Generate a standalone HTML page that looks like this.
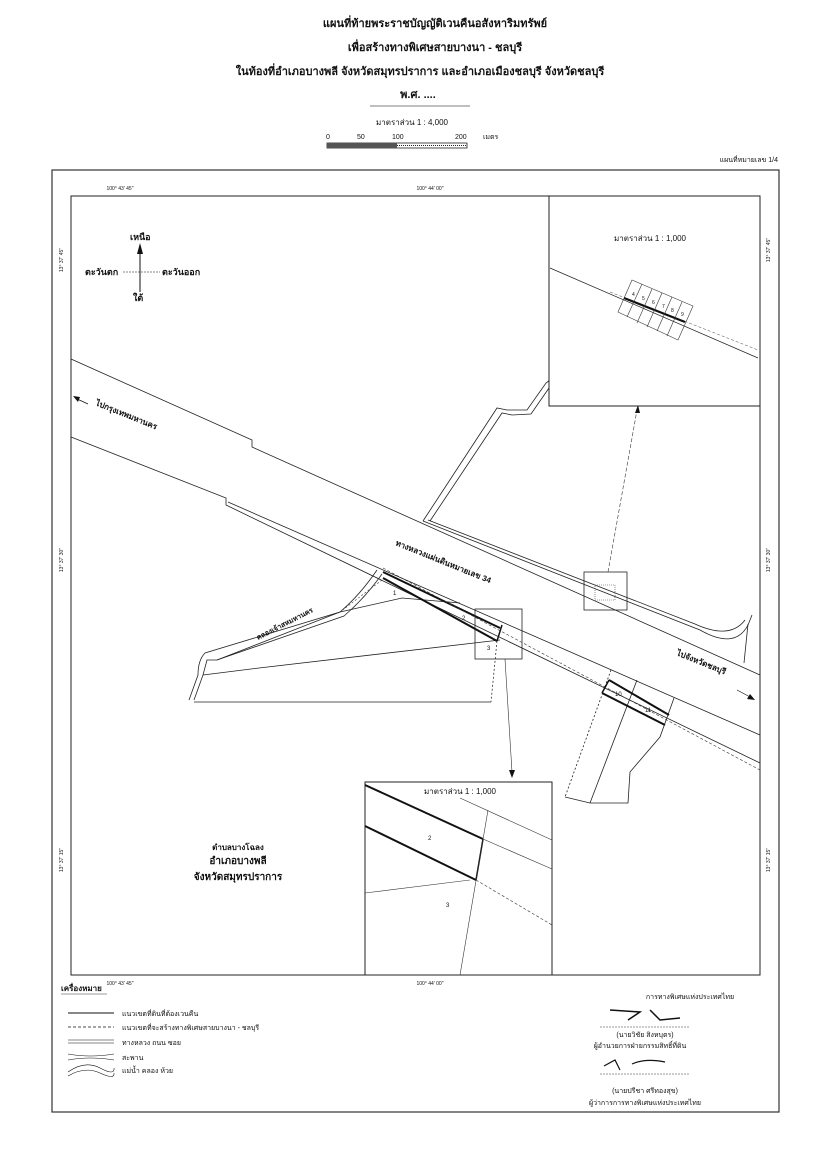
<!DOCTYPE html>
<html><head><meta charset="utf-8"><style>
html,body{margin:0;padding:0;background:#fff}
svg{display:block}
text{font-family:"Liberation Sans","Noto Sans CJK SC",sans-serif;fill:#111}
</style></head><body>
<svg width="816" height="1150" viewBox="0 0 816 1150" xmlns="http://www.w3.org/2000/svg">
<g text-anchor="middle" font-weight="bold">
<text x="435" y="27" font-size="11">แผนที่ท้ายพระราชบัญญัติเวนคืนอสังหาริมทรัพย์</text>
<text x="435" y="51" font-size="11">เพื่อสร้างทางพิเศษสายบางนา - ชลบุรี</text>
<text x="420" y="75" font-size="11">ในท้องที่อำเภอบางพลี จังหวัดสมุทรปราการ และอำเภอเมืองชลบุรี จังหวัดชลบุรี</text>
<text x="418" y="98" font-size="11">พ.ศ. ....</text>
</g>
<line x1="370" y1="106" x2="470" y2="106" stroke="#555" stroke-width="0.8"/>
<text x="412" y="125" font-size="8" text-anchor="middle">มาตราส่วน 1 : 4,000</text>
<g font-size="7"><text x="326" y="139">0</text><text x="357" y="139">50</text><text x="392" y="139">100</text><text x="455" y="139">200</text><text x="483" y="139">เมตร</text></g>
<rect x="327" y="143" width="140" height="5" fill="none" stroke="#222" stroke-width="0.8"/>
<rect x="327" y="143" width="70" height="5" fill="#555"/>
<line x1="397" y1="145.5" x2="467" y2="145.5" stroke="#222" stroke-dasharray="1 1"/>
<text x="778" y="162" font-size="7" text-anchor="end">แผนที่หมายเลข 1/4</text>
<rect x="52" y="170" width="727" height="942" fill="none" stroke="#333" stroke-width="1.2"/>
<rect x="71" y="196" width="689" height="779" fill="none" stroke="#222" stroke-width="1"/>
<g font-size="5"><text x="120" y="190" text-anchor="middle">100° 43' 45"</text><text x="430" y="190" text-anchor="middle">100° 44' 00"</text>
<text x="120" y="985" text-anchor="middle">100° 43' 45"</text><text x="430" y="985" text-anchor="middle">100° 44' 00"</text></g>
<g font-size="5"><text transform="translate(63,260) rotate(-90)" text-anchor="middle">13° 37' 45"</text><text transform="translate(63,560) rotate(-90)" text-anchor="middle">13° 37' 30"</text><text transform="translate(63,860) rotate(-90)" text-anchor="middle">13° 37' 15"</text>
<text transform="translate(770,250) rotate(-90)" text-anchor="middle">13° 37' 45"</text><text transform="translate(770,560) rotate(-90)" text-anchor="middle">13° 37' 30"</text><text transform="translate(770,860) rotate(-90)" text-anchor="middle">13° 37' 15"</text></g>
<line x1="140" y1="292" x2="140" y2="248" stroke="#111" stroke-width="1"/>
<polygon points="140,243 137,254 143,254" fill="#111"/>
<line x1="123" y1="272" x2="160" y2="272" stroke="#111" stroke-width="0.6" stroke-dasharray="2 1"/>
<g font-size="9" font-weight="bold"><text x="130" y="240">เหนือ</text><text x="85" y="275">ตะวันตก</text><text x="162" y="275">ตะวันออก</text><text x="133" y="301">ใต้</text></g>
<g fill="none" stroke="#222" stroke-width="0.8">
<polyline points="71,359 252,440 252,447 760,675"/>
<polyline points="71,437 226,498 226,505 760,763"/>
<polyline points="228,502 760,735"/>
<path d="M423,521 L700,630 Q735,650 748,625 L752,615"/>
<path d="M428,520 L695,624 Q730,640 745,620"/>
<polyline points="744,663 748,624"/>
<polyline points="423,521 497,408 507,410 527,410 546,383 550,380"/>
<polyline points="430,521 502,413 512,415 531,414 549,388"/>
<!-- left parcels -->
<path d="M377,570 Q360,595 340,612 L205,653 Q198,660 198,675 L189,700"/>
<path d="M382,574 Q365,598 344,616 L217,660 L207,660 L203,675 L194,700"/>
<polyline points="203,675 259,668 500,640"/>
<polyline points="217,660 340,612"/>
<polyline points="340,612 402,598 460,603"/>
<polyline points="194,702 491,702"/>
</g>
<polyline points="382,580 340,612" stroke="#333" stroke-width="0.6" stroke-dasharray="2 2"/>
<polyline points="383,572 500,628" stroke="#111" stroke-width="2" fill="none"/>
<polyline points="383,578 497,641" stroke="#111" stroke-width="2" fill="none"/>
<polyline points="497,641 502,625" stroke="#111" stroke-width="1.5"/>
<polyline points="497,641 491,702" stroke="#333" stroke-width="0.8" stroke-dasharray="2 2"/>
<polyline points="383,568 760,770" stroke="#333" stroke-width="0.6" stroke-dasharray="3 2" fill="none"/>
<g font-size="6"><text x="393" y="595">1</text><text x="462" y="620">2</text><text x="487" y="650">3</text></g>
<text transform="translate(258,640) rotate(-27)" font-size="7" font-weight="bold">คลองเจ้าสหมหานคร</text>
<!-- right parcels -->
<g fill="none" stroke="#222" stroke-width="0.8">
<polyline points="611,670 565,797" stroke-dasharray="2 2"/>
<polyline points="565,797 590,803 628,803 630,772 660,737 674,698"/>
<polyline points="637,680 590,803"/>
</g>
<polyline points="609,680 669,715" stroke="#111" stroke-width="2"/>
<polyline points="602,693 665,725" stroke="#111" stroke-width="2"/>
<polyline points="609,680 602,693 M669,715 665,725" stroke="#111" stroke-width="1.5"/>
<g font-size="6"><text x="615" y="696">10</text><text x="645" y="712">11</text></g>
<text transform="translate(395,545) rotate(22)" font-size="8" font-weight="bold">ทางหลวงแผ่นดินหมายเลข 34</text>
<text transform="translate(95,405) rotate(22)" font-size="8" font-weight="bold">ไปกรุงเทพมหานคร</text>
<line x1="75" y1="398" x2="88" y2="404" stroke="#111" stroke-width="0.7"/><polygon points="73,396 80,397 78,402" fill="#111"/>
<text transform="translate(676,655) rotate(22)" font-size="8" font-weight="bold">ไปจังหวัดชลบุรี</text>
<line x1="737" y1="690" x2="752" y2="698" stroke="#111" stroke-width="0.7"/><polygon points="755,700 747,699 750,694" fill="#111"/>
<rect x="584" y="572" width="43" height="38" fill="none" stroke="#222" stroke-width="0.8"/>
<rect x="595" y="585" width="20" height="15" fill="none" stroke="#444" stroke-width="0.6" stroke-dasharray="1 1"/>
<rect x="475" y="609" width="47" height="50" fill="none" stroke="#222" stroke-width="0.8"/>
<line x1="608" y1="572" x2="637" y2="410" stroke="#333" stroke-width="0.6" stroke-dasharray="4 2"/>
<polygon points="638,405 635,413 640,413" fill="#111"/>
<line x1="505" y1="659" x2="512" y2="772" stroke="#333" stroke-width="0.6"/>
<polygon points="512,778 509,770 515,770" fill="#111"/>
<rect x="549" y="196" width="211" height="210" fill="#fff" stroke="#222" stroke-width="1"/>
<text x="650" y="241" font-size="8" text-anchor="middle">มาตราส่วน 1 : 1,000</text>
<polyline points="550,268 758,358" stroke="#222" stroke-width="0.7" fill="none"/>
<polyline points="610,292 758,350" stroke="#444" stroke-width="0.5" fill="none" stroke-dasharray="3 2"/>
<polyline points="624,298 685,322" stroke="#111" stroke-width="2.2" fill="none"/>
<g stroke="#333" stroke-width="0.6" fill="none">
<polygon points="632,280 693,306 678,340 618,312"/>
<line x1="642" y1="284" x2="627" y2="317"/><line x1="652" y1="289" x2="637" y2="323"/><line x1="662" y1="293" x2="647" y2="327"/><line x1="672" y1="297" x2="657" y2="331"/><line x1="682" y1="302" x2="667" y2="336"/>
</g>
<g font-size="5"><text x="632" y="296">4</text><text x="642" y="300">5</text><text x="652" y="304">6</text><text x="662" y="308">7</text><text x="671" y="312">8</text><text x="681" y="316">9</text></g>
<rect x="365" y="782" width="187" height="193" fill="#fff" stroke="#222" stroke-width="1"/>
<text x="460" y="794" font-size="8" text-anchor="middle">มาตราส่วน 1 : 1,000</text>
<line x1="365" y1="785" x2="483" y2="839" stroke="#111" stroke-width="2"/>
<line x1="365" y1="826" x2="476" y2="880" stroke="#111" stroke-width="2"/>
<line x1="476" y1="880" x2="483" y2="839" stroke="#111" stroke-width="1.5"/>
<line x1="460" y1="798" x2="552" y2="840" stroke="#333" stroke-width="0.6"/>
<line x1="483" y1="839" x2="552" y2="869" stroke="#333" stroke-width="0.6"/>
<line x1="476" y1="880" x2="552" y2="925" stroke="#333" stroke-width="0.6" stroke-dasharray="3 2"/>
<line x1="365" y1="893" x2="470" y2="880" stroke="#333" stroke-width="0.6"/>
<line x1="488" y1="810" x2="460" y2="975" stroke="#333" stroke-width="0.6"/>
<text x="428" y="840" font-size="6">2</text><text x="446" y="907" font-size="6">3</text>
<g text-anchor="middle" font-weight="bold"><text x="238" y="850" font-size="8">ตำบลบางโฉลง</text><text x="238" y="864" font-size="10">อำเภอบางพลี</text><text x="238" y="880" font-size="10">จังหวัดสมุทรปราการ</text></g>
<text x="61" y="991" font-size="8" font-weight="bold">เครื่องหมาย</text>
<line x1="61" y1="994" x2="107" y2="994" stroke="#333" stroke-width="0.6"/>
<g font-size="7">
<line x1="68" y1="1013" x2="114" y2="1013" stroke="#111" stroke-width="1"/><text x="122" y="1016">แนวเขตที่ดินที่ต้องเวนคืน</text>
<line x1="68" y1="1027" x2="114" y2="1027" stroke="#111" stroke-width="0.8" stroke-dasharray="3 2"/><text x="122" y="1030">แนวเขตที่จะสร้างทางพิเศษสายบางนา - ชลบุรี</text>
<line x1="68" y1="1040" x2="114" y2="1040" stroke="#111" stroke-width="0.6"/><line x1="68" y1="1043" x2="114" y2="1043" stroke="#111" stroke-width="0.6"/><text x="122" y="1045">ทางหลวง ถนน ซอย</text>
<path d="M68,1054 Q90,1058 114,1054 M68,1060 Q90,1056 114,1060" stroke="#111" stroke-width="0.6" fill="none"/><text x="122" y="1060">สะพาน</text>
<path d="M68,1072 Q85,1060 100,1068 T114,1068 M68,1076 Q85,1066 100,1073 T114,1073" stroke="#111" stroke-width="0.6" fill="none"/><text x="122" y="1073">แม่น้ำ คลอง ห้วย</text>
</g>
<g font-size="7" text-anchor="middle">
<text x="690" y="999">การทางพิเศษแห่งประเทศไทย</text>
<path d="M610,1010 L640,1012 L628,1020 M650,1010 L660,1020 L680,1018" stroke="#111" fill="none" stroke-width="1.5"/>
<line x1="600" y1="1027" x2="690" y2="1027" stroke="#333" stroke-width="0.6" stroke-dasharray="2 1"/>
<text x="645" y="1037">(นายวิชัย สิงหบุตร)</text>
<text x="640" y="1048">ผู้อำนวยการฝ่ายกรรมสิทธิ์ที่ดิน</text>
<path d="M604,1066 L615,1060 L620,1070 M632,1064 Q645,1058 665,1062" stroke="#111" fill="none" stroke-width="1.2"/>
<line x1="600" y1="1074" x2="690" y2="1074" stroke="#333" stroke-width="0.6" stroke-dasharray="2 1"/>
<text x="645" y="1093">(นายปรีชา ศรีทองสุข)</text>
<text x="645" y="1105">ผู้ว่าการการทางพิเศษแห่งประเทศไทย</text>
</g>
</svg>
</body></html>
